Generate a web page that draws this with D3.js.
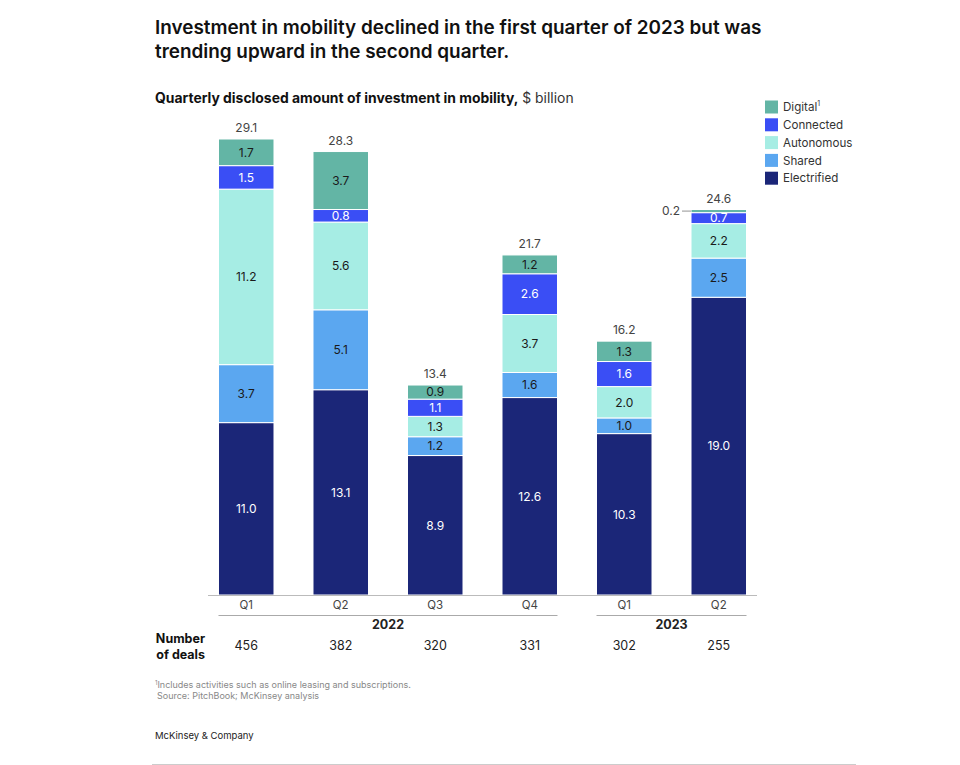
<!DOCTYPE html>
<html><head><meta charset="utf-8">
<script src="https://cdn.jsdelivr.net/npm/d3@7"></script>
<style>body{margin:0;background:#fff;} svg{display:block;font-family:Inter,"Liberation Sans",sans-serif;}</style>
</head><body>
<svg id="c" width="960" height="765"></svg>
<script>
const quarters = ["Q1","Q2","Q3","Q4","Q1","Q2"];
const years = ["2022","2022","2022","2022","2023","2023"];
const deals = [456,382,320,331,302,255];
const electrified = [11.0,13.1,8.9,12.6,10.3,19.0];
const shared = [3.7,5.1,1.2,1.6,1.0,2.5];
const autonomous = [11.2,5.6,1.3,3.7,2.0,2.2];
const connected = [1.5,0.8,1.1,2.6,1.6,0.7];
const digital = [1.7,3.7,0.9,1.2,1.3,0.2];
const totals = [29.1,28.3,13.4,21.7,16.2,24.6];
const seriesNames = ["Electrified","Shared","Autonomous","Connected","Digital"];
const seriesColors = ["#1b2678","#5ba7f0","#a6ede4","#3a4ef5","#63b5a5"];
const labelColors = ["#fff","#1a1a1a","#1a1a1a","#fff","#1a1a1a"];

const svg = d3.select("#c");
const idx = d3.range(quarters.length);
const rows = idx.map(i => ({i, Electrified:electrified[i], Shared:shared[i], Autonomous:autonomous[i], Connected:connected[i], Digital:digital[i]}));
const stack = d3.stack().keys(seriesNames)(rows);

const x = d3.scaleBand().domain(idx).range([208, 757]).paddingInner(0.4127).paddingOuter(0.111);
const y = d3.scaleLinear().domain([0, 29.1]).range([595, 139]);
const color = d3.scaleOrdinal().domain(seriesNames).range(seriesColors);

// Title
const title = svg.append("g").attr("font-weight",600).attr("font-size",18.9).attr("fill","#111");
title.append("text").attr("x",155).attr("y",34).text("Investment in mobility declined in the first quarter of 2023 but was");
title.append("text").attr("x",155).attr("y",58).text("trending upward in the second quarter.");

const sub = svg.append("text").attr("x",155).attr("y",103).attr("font-size",13.9).attr("fill","#111");
sub.append("tspan").attr("font-weight",700).text("Quarterly disclosed amount of investment in mobility,");
sub.append("tspan").attr("font-weight",400).attr("fill","#333").text(" $ billion");

// Bars
const g = svg.append("g");
stack.forEach((s, k) => {
  g.selectAll(null).data(s).enter().append("rect")
    .attr("x", d => x(d.data.i))
    .attr("width", x.bandwidth())
    .attr("y", d => y(d[1]))
    .attr("height", d => y(d[0]) - y(d[1]))
    .attr("fill", color(s.key))
    .attr("stroke","#fff").attr("stroke-width",1);
  g.selectAll(null).data(s.filter(d => d[1]-d[0] >= 0.5)).enter().append("text")
    .attr("x", d => x(d.data.i) + x.bandwidth()/2)
    .attr("y", d => (y(d[0]) + y(d[1]))/2)
    .attr("dy","0.36em").attr("text-anchor","middle")
    .attr("font-size",12).attr("fill", labelColors[k])
    .text(d => (d[1]-d[0]).toFixed(1));
});
// small segment label with leader
stack.forEach((s) => {
  s.filter(d => d[1]-d[0] < 0.5).forEach(d => {
    const yy = (y(d[0]) + y(d[1]))/2;
    const x0 = x(d.data.i);
    g.append("line").attr("x1", x0-9).attr("x2", x0).attr("y1", yy).attr("y2", yy).attr("stroke","#777").attr("stroke-width",0.8);
    g.append("text").attr("x", x0-11).attr("y", yy).attr("dy","0.36em").attr("text-anchor","end")
      .attr("font-size",12).attr("fill","#444").text((d[1]-d[0]).toFixed(1));
  });
});
// totals
g.selectAll(null).data(idx).enter().append("text")
  .attr("x", i => x(i) + x.bandwidth()/2)
  .attr("y", i => y(totals[i]) - 7)
  .attr("text-anchor","middle").attr("font-size",12).attr("fill","#444")
  .text(i => totals[i].toFixed(1));

// Axis
svg.append("line").attr("x1",208).attr("x2",757).attr("y1",595.5).attr("y2",595.5).attr("stroke","#bbb");
svg.selectAll(null).data(idx).enter().append("text")
  .attr("x", i => x(i) + x.bandwidth()/2).attr("y",609).attr("text-anchor","middle")
  .attr("font-size",11.5).attr("fill","#444").text(i => quarters[i]);
// year groups
const yearList = Array.from(new Set(years));
yearList.forEach(yr => {
  const ids = idx.filter(i => years[i] === yr);
  const xa = x(ids[0]), xb = x(ids[ids.length-1]) + x.bandwidth();
  svg.append("line").attr("x1",xa).attr("x2",xb).attr("y1",615.5).attr("y2",615.5).attr("stroke","#aaa");
  svg.append("text").attr("x",(xa+xb)/2).attr("y",629).attr("text-anchor","middle")
    .attr("font-size",12.5).attr("font-weight",700).attr("fill","#222").text(yr);
});
// deals
const dl = svg.append("g").attr("font-size",12.5).attr("font-weight",700).attr("fill","#111").attr("text-anchor","end");
dl.append("text").attr("x",205).attr("y",643).text("Number");
dl.append("text").attr("x",205).attr("y",659).text("of deals");
svg.selectAll(null).data(idx).enter().append("text")
  .attr("x", i => x(i) + x.bandwidth()/2).attr("y",650).attr("text-anchor","middle")
  .attr("font-size",12.5).attr("fill","#222").text(i => deals[i]);

// Legend
const legendOrder = ["Digital","Connected","Autonomous","Shared","Electrified"];
const lg = svg.append("g");
legendOrder.forEach((n, j) => {
  const yy = 107 + j*17.8;
  lg.append("rect").attr("x",765).attr("y",yy-6.5).attr("width",13).attr("height",13).attr("fill",color(n));
  const t = lg.append("text").attr("x",783).attr("y",yy).attr("dy","0.36em").attr("font-size",11.6).attr("fill","#333").text(n);
  if (n === "Digital") t.append("tspan").attr("font-size",7).attr("dy","-0.7em").text("1");
});

// Footnotes
const fn = svg.append("g").attr("font-size",9).attr("fill","#888");
fn.append("text").attr("x",155).attr("y",688).html('<tspan font-size="6" dy="-3">1</tspan><tspan dy="3">Includes activities such as online leasing and subscriptions.</tspan>');
fn.append("text").attr("x",157).attr("y",699).text("Source: PitchBook; McKinsey analysis");
svg.append("text").attr("x",155).attr("y",739).attr("font-size",9.5).attr("fill","#222").text("McKinsey & Company");
svg.append("line").attr("x1",152).attr("x2",856).attr("y1",764.5).attr("y2",764.5).attr("stroke","#ccc");
</script>
</body></html>
